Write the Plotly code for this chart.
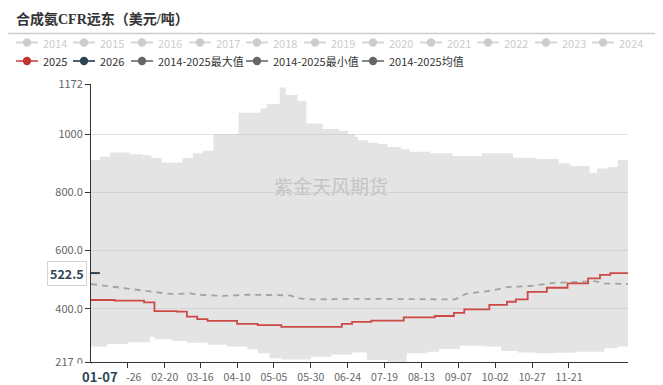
import plotly.graph_objects as go

YEAR = "2025"

# ---- data ----
MAX_DATES = ["01-01","01-07","01-14","01-27","02-05","02-11","02-18","03-04","03-11","03-18",
             "03-25","04-11","04-26","04-30","05-09","05-13","05-21","05-27","06-07","06-18",
             "06-24","06-29","07-01","07-08","07-15","07-21","07-30","08-05","08-19","09-03",
             "09-23","10-14","10-30","11-14","11-22","12-05","12-10","12-18","12-24","12-31"]
MAX_VALS = [911,922,937,931,927,918,902,918,934,943,
            1000,1073,1088,1103,1160,1134,1114,1036,1017,1011,
            1000,990,979,970,966,956,948,939,934,925,
            934,919,914,900,890,867,882,887,911,911]

MIN_DATES = ["01-01","01-12","01-26","02-10","02-13","02-25","03-07","03-21","04-03","04-17",
             "04-24","05-02","05-10","05-30","06-13","06-27","07-07","07-21","08-03","08-17",
             "08-25","09-08","09-23","10-06","10-17","10-29","11-11","11-25","12-15","12-24","12-31"]
MIN_VALS = [270,279,285,304,295,289,283,276,270,261,
            247,230,226,235,243,250,224,218,247,252,
            262,273,270,255,250,247,249,252,264,270,270]

MEAN_DATES = ["01-01","01-10","01-27","02-11","02-20","02-27","03-09","03-16","04-01","04-18",
              "05-06","05-16","05-21","05-31","07-01","08-01","09-05","09-12","09-28","10-10",
              "10-27","11-11","12-08","12-15","12-31"]
MEAN_VALS = [485,479,470,458,453,450,453,448,444,448,
             448,446,436,432,434,432,432,451,461,474,
             479,489,495,487,485]

Y2025_DATES = ["01-01","01-17","02-06","02-13","02-28","03-07","03-14","03-21","04-10","04-24",
               "05-10","06-20","06-27","07-10","08-01","08-22","09-04","09-11","09-28","10-10",
               "10-16","10-24","11-06","11-20","12-04","12-12","12-19","12-31"]
Y2025_VALS = [430,428,422,392,390,373,364,358,348,344,
              338,348,355,359,370,375,386,398,413,424,
              432,458,472,487,504,516,522.5,522.5]

Y2026_DATES = ["01-01","01-07"]
Y2026_VALS = [522.5,522.5]

XTICK_DATES = ["01-01","01-26","02-20","03-16","04-10","05-05","05-30","06-24",
               "07-19","08-13","09-07","10-02","10-27","11-21"]
XTICK_LABELS = ["","01-26","02-20","03-16","04-10","05-05","05-30","06-24",
                "07-19","08-13","09-07","10-02","10-27","11-21"]
YTICK_VALS = [217, 400, 600, 800, 1000, 1172]
YTICK_TEXT = ["217.0", "400.0", "600.0", "800.0", "1000", "1172"]

LEGEND_ROW1 = ["2014","2015","2016","2017","2018","2019","2020","2021","2022","2023","2024"]
LEGEND_ROW2 = [("2025", "#c23531"), ("2026", "#2f4554"), ("2014-2025最大值", "#666666"),
               ("2014-2025最小值", "#666666"), ("2014-2025均值", "#666666")]

POINTER_DATE = "01-07"
POINTER_VAL = 522.5


def d(lst):
    return [f"{YEAR}-{s}" for s in lst]


W, H = 663, 385
L, R, T, B = 91, 35, 84, 23
PW, PH = W - L - R, H - T - B


def px(x):
    return (x - L) / PW


def py(y):
    return (H - B - y) / PH


SANS = "Noto Sans CJK SC, Noto Sans, sans-serif"

fig = go.Figure()

fig.add_trace(go.Scatter(x=d(MIN_DATES), y=MIN_VALS, mode="lines", line=dict(width=0, shape="hv"),
                         showlegend=False, hoverinfo="skip"))
fig.add_trace(go.Scatter(x=d(MAX_DATES), y=MAX_VALS, mode="lines", line=dict(width=0, shape="hv"),
                         fill="tonexty", fillcolor="rgba(190,190,190,0.42)",
                         showlegend=False, hoverinfo="skip"))
fig.add_trace(go.Scatter(x=d(MEAN_DATES), y=MEAN_VALS, mode="lines",
                         line=dict(width=1.8, color="#a3a3a3", dash="6px,5px"),
                         showlegend=False, hoverinfo="skip"))
fig.add_trace(go.Scatter(x=d(Y2025_DATES), y=Y2025_VALS, mode="lines",
                         line=dict(width=1.8, color="#cc4a45", shape="hv"),
                         showlegend=False, hoverinfo="skip"))
fig.add_trace(go.Scatter(x=d(Y2026_DATES), y=Y2026_VALS, mode="lines",
                         line=dict(width=2, color="#2f4554", shape="hv"),
                         showlegend=False, hoverinfo="skip"))

shapes = []
annotations = []

# title + separator
annotations.append(dict(text="<b>合成氨CFR远东（美元/吨）</b>", xref="paper", yref="paper",
                        x=px(14), y=py(19), xanchor="left", yanchor="middle", showarrow=False,
                        font=dict(family="Liberation Serif, Noto Sans CJK SC, serif", size=14,
                                  color="#333333")))
shapes.append(dict(type="line", xref="paper", yref="paper", x0=px(8), x1=px(655),
                   y0=py(33.5), y1=py(33.5), line=dict(color="#cccccc", width=1.5)))


def legend_item(tx, ty, label, color, lcolor):
    shapes.append(dict(type="line", xref="paper", yref="paper", x0=px(tx - 26), x1=px(tx - 4),
                       y0=py(ty), y1=py(ty), line=dict(color=lcolor, width=2)))
    r = 4.2
    cx = tx - 15
    shapes.append(dict(type="circle", xref="paper", yref="paper", x0=px(cx - r), x1=px(cx + r),
                       y0=py(ty + r), y1=py(ty - r), fillcolor=color, line=dict(width=0)))
    annotations.append(dict(text=label, xref="paper", yref="paper", x=px(tx - 1), y=py(ty),
                            xanchor="left", yanchor="middle", showarrow=False,
                            font=dict(family=SANS, size=11, color="#cccccc" if color == "#cccccc" else "#333333")))


row1_x = [42, 99, 157, 215, 272, 330, 388, 446, 503, 561, 618]
for lab, tx in zip(LEGEND_ROW1, row1_x):
    legend_item(tx, 42.5, lab, "#cccccc", "#d6d6d6")

row2_x = [42, 99, 157, 272, 388]
for (lab, col), tx in zip(LEGEND_ROW2, row2_x):
    lcol = {"#c23531": "#d86a66", "#2f4554": "#4a5f70"}.get(col, "#888888")
    legend_item(tx, 61, lab, col, lcol)

# watermark
annotations.append(dict(text="紫金天风期货", xref="paper", yref="paper", x=px(331), y=py(185),
                        xanchor="center", yanchor="middle", showarrow=False,
                        font=dict(family=SANS, size=19, color="#c4c4c4")))

# axis pointer labels
annotations.append(dict(text="<b>" + POINTER_DATE + "</b>", xref="x", yref="paper",
                        x=f"{YEAR}-{POINTER_DATE}", y=py(376.5), xanchor="center", yanchor="middle",
                        showarrow=False, bgcolor="#ffffff", borderpad=3, width=44,
                        font=dict(family=SANS, size=13, color="#2f4554")))
annotations.append(dict(text="<b>" + str(POINTER_VAL) + "</b>", xref="paper", yref="y",
                        x=px(87), y=POINTER_VAL, xanchor="right", yanchor="middle",
                        showarrow=False, bgcolor="#ffffff", bordercolor="#d4d4d4", borderwidth=1,
                        borderpad=2, font=dict(family=SANS, size=12.5, color="#2f4554")))

fig.update_layout(
    width=W, height=H,
    margin=dict(l=L, r=R, t=T, b=B, pad=0, autoexpand=False),
    paper_bgcolor="#ffffff", plot_bgcolor="#ffffff",
    showlegend=False,
    shapes=shapes, annotations=annotations,
    xaxis=dict(type="date", range=[f"{YEAR}-01-01", f"{YEAR}-12-31"],
               tickvals=d(XTICK_DATES), ticktext=XTICK_LABELS, automargin=False,
               showgrid=False, zeroline=False, showline=True, linecolor="#333333", linewidth=1,
               ticks="outside", ticklen=5, tickcolor="#333333",
               tickfont=dict(family=SANS, size=10.5, color="#666666"), fixedrange=True),
    yaxis=dict(range=[217, 1172], tickvals=YTICK_VALS, ticktext=YTICK_TEXT, automargin=False,
               showgrid=True, gridcolor="#e2e2e2", gridwidth=1, zeroline=False,
               showline=True, linecolor="#333333", linewidth=1,
               ticks="outside", ticklen=5, tickcolor="#333333",
               tickfont=dict(family=SANS, size=11, color="#666666"), fixedrange=True),
    hovermode=False,
)

fig.write_html("out.html", config={"displayModeBar": False})
